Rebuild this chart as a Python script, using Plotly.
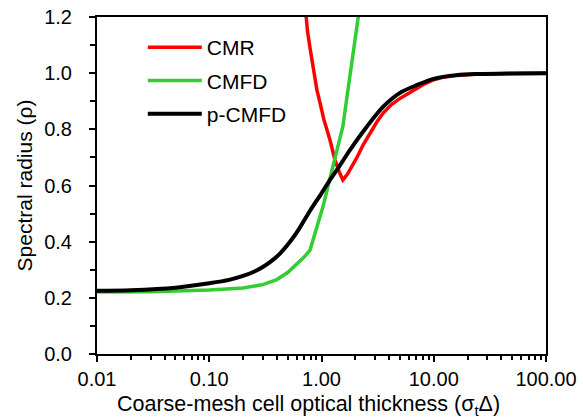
import plotly.graph_objects as go

# p-CMFD (black)
x_pcmfd = [0.01, 0.02, 0.05, 0.1, 0.15, 0.2, 0.25, 0.3, 0.35, 0.42, 0.52, 0.63, 0.79, 1.0, 1.19, 1.45, 1.79, 2.54, 3.53, 5.0, 7.1, 9.8, 15.9, 25, 50, 100]
y_pcmfd = [0.225, 0.227, 0.236, 0.252, 0.264, 0.278, 0.293, 0.31, 0.328, 0.355, 0.398, 0.445, 0.51, 0.572, 0.62, 0.67, 0.726, 0.81, 0.88, 0.93, 0.958, 0.979, 0.993, 0.997, 0.999, 1.0]

# CMFD (green)
x_cmfd = [0.01, 0.03, 0.1, 0.2, 0.3, 0.4, 0.5, 0.6, 0.7, 0.79, 0.84, 1.03, 1.26, 1.46, 1.55, 1.72, 1.9, 2.16, 2.4]
y_cmfd = [0.221, 0.222, 0.228, 0.235, 0.247, 0.265, 0.29, 0.318, 0.345, 0.37, 0.406, 0.524, 0.666, 0.762, 0.81, 0.94, 1.05, 1.2, 1.35]

# CMR (red)
x_cmr = [0.70, 0.75, 0.79, 0.85, 0.91, 0.97, 1.05, 1.19, 1.32, 1.45, 1.55, 1.7, 1.85, 2.07, 2.35, 2.7, 3.1, 3.53, 4.2, 5.0, 6.0, 7.1, 8.3, 9.8, 12, 15.9, 25, 50, 100]
y_cmr = [1.28, 1.15, 1.09, 1.01, 0.94, 0.894, 0.835, 0.762, 0.69, 0.645, 0.62, 0.64, 0.665, 0.70, 0.745, 0.787, 0.825, 0.857, 0.888, 0.91, 0.93, 0.946, 0.962, 0.975, 0.985, 0.992, 0.997, 0.999, 1.0]

X_TITLE = "Coarse-mesh cell optical thickness (σ<sub>t</sub>Δ)"
Y_TITLE = "Spectral radius (ρ)"

FONT = "Liberation Sans, Arial, sans-serif"

fig = go.Figure()
fig.add_trace(go.Scatter(x=x_cmr, y=y_cmr, mode="lines", name="CMR", legendgroup="a",
                         line=dict(color="#ff0000", width=3.5)))
fig.add_trace(go.Scatter(x=x_cmfd, y=y_cmfd, mode="lines", name="CMFD", legendgroup="b",
                         line=dict(color="#33cc33", width=3.5)))
fig.add_trace(go.Scatter(x=x_pcmfd, y=y_pcmfd, mode="lines", name="p-CMFD", legendgroup="c",
                         line=dict(color="#000000", width=4, shape="spline", smoothing=0.8)))

fig.add_annotation(text=X_TITLE, xref="paper", yref="paper", x=0.47, y=-0.154,
                   xanchor="center", yanchor="middle", showarrow=False,
                   font=dict(size=21.5, family=FONT, color="black"))

fig.update_layout(
    width=583, height=418,
    margin=dict(l=97, r=37, t=17, b=64),
    paper_bgcolor="white", plot_bgcolor="white",
    font=dict(family=FONT, size=20, color="black"),
    showlegend=True,
    legend=dict(x=0.102, y=0.97, xanchor="left", yanchor="top", bgcolor="rgba(0,0,0,0)",
                font=dict(size=21), tracegroupgap=3, itemwidth=54),
    xaxis=dict(
        type="log", range=[-2, 2], dtick=1, tickformat=".2f", automargin=False,
        ticklabeloverflow="allow",
        showline=True, linecolor="black", linewidth=2, mirror=True,
        ticks="outside", ticklen=6, tickwidth=1.5, tickcolor="black",
        showgrid=False, zeroline=False,
        minor=dict(dtick="D1", ticks="outside", ticklen=4, tickwidth=1.5, tickcolor="black", showgrid=False),
    ),
    yaxis=dict(
        range=[0, 1.2], dtick=0.2, tickformat=".1f", automargin=False,
        ticklabeloverflow="allow",
        showline=True, linecolor="black", linewidth=2, mirror=True,
        ticks="outside", ticklen=6, tickwidth=1.5, tickcolor="black", ticklabelstandoff=13,
        showgrid=False, zeroline=False,
        minor=dict(dtick=0.1, ticks="outside", ticklen=5, tickwidth=1.5, tickcolor="black", showgrid=False),
        title=dict(text=Y_TITLE, font=dict(size=21), standoff=6),
    ),
)

fig.write_html("out.html", config={"displayModeBar": False},
               post_script="document.body.style.margin='0px';")
